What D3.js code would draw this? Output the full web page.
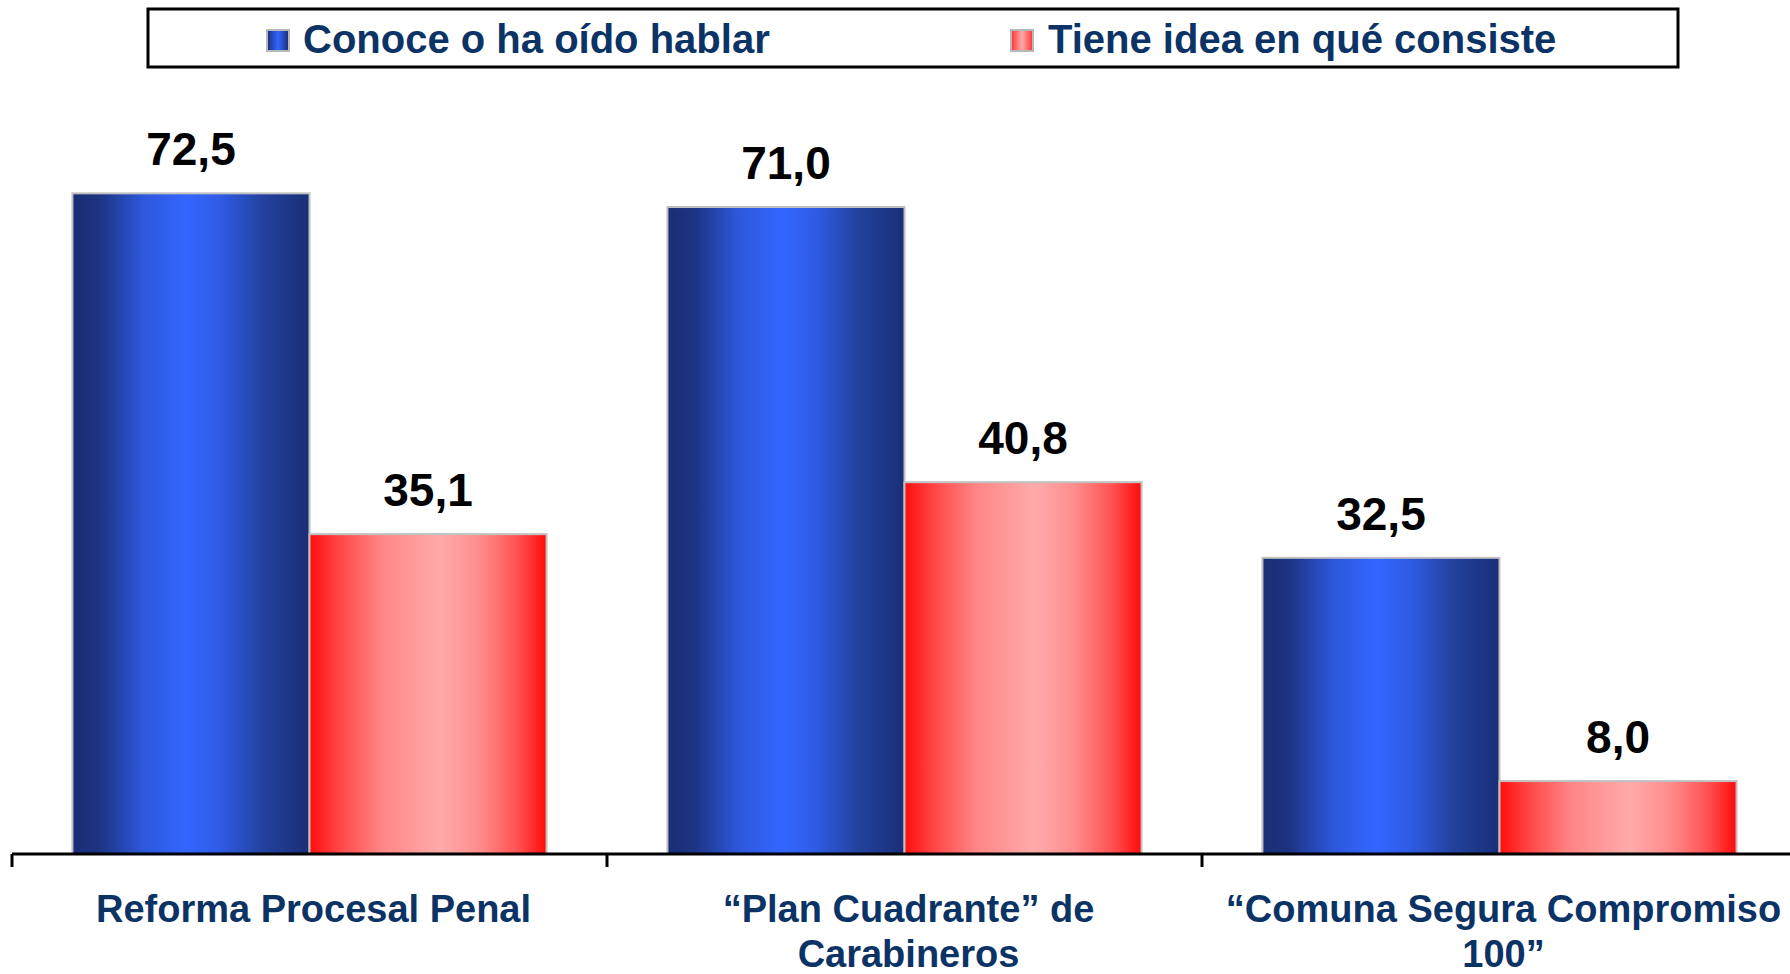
<!DOCTYPE html>
<html>
<head>
<meta charset="utf-8">
<script src="https://cdn.jsdelivr.net/npm/d3@7"></script>
<style>
  html, body { margin: 0; padding: 0; background: #ffffff; }
  svg { display: block; }
</style>
</head>
<body>
<svg id="chart" width="1790" height="974"></svg>
<script>
// ---- data ----
const categories = ["Reforma Procesal Penal", "“Plan Cuadrante” de\nCarabineros", "“Comuna Segura Compromiso\n100”"];
const seriesNames = ["Conoce o ha oído hablar", "Tiene idea en qué consiste"];
const conoceValues = [72.5, 71.0, 32.5];
const ideaValues = [35.1, 40.8, 8.0];
const yDomain = [0, 80];

// ---- layout ----
const W = 1790, H = 974;
const axisY = 854, plotTop = 125;
const xStart = 12, bandW = 595;
const navy = "#0c3366";
const font = "'Liberation Sans', Arial, sans-serif";

const svg = d3.select("#chart");
const defs = svg.append("defs");

function grad(id, stops) {
  const g = defs.append("linearGradient").attr("id", id)
    .attr("x1", "0%").attr("x2", "100%").attr("y1", "0%").attr("y2", "0%");
  stops.forEach(s => g.append("stop").attr("offset", s[0]).attr("stop-color", s[1]));
}
grad("gBlue", [[0, "#1a2d75"], [0.12, "#1d3585"], [0.3, "#2d58dc"], [0.48, "#3366ff"], [0.62, "#2f5ce6"], [0.8, "#23429f"], [1, "#192e76"]]);
grad("gRed", [[0, "#ff0d0d"], [0.12, "#ff4444"], [0.3, "#ff8585"], [0.55, "#ffaaaa"], [0.72, "#ff8c8c"], [0.88, "#ff5050"], [1, "#ff0a0a"]]);
grad("gBlueL", [[0, "#1a2d75"], [0.5, "#3366ff"], [1, "#1a2d75"]]);
grad("gRedL", [[0, "#ff3030"], [0.5, "#ffaaaa"], [1, "#ff3030"]]);

const x0 = d3.scaleBand().domain(categories).range([xStart, xStart + bandW * categories.length]).paddingInner(0).paddingOuter(0);
const x1 = d3.scaleBand().domain(seriesNames).range([0, x0.bandwidth()]).paddingInner(0).paddingOuter(0.255);
const y = d3.scaleLinear().domain(yDomain).range([axisY, plotTop]);

const fills = { [seriesNames[0]]: "url(#gBlue)", [seriesNames[1]]: "url(#gRed)" };
const legendFills = { [seriesNames[0]]: "url(#gBlueL)", [seriesNames[1]]: "url(#gRedL)" };

const rows = categories.map((c, i) => ({ cat: c, vals: [
  { s: seriesNames[0], v: conoceValues[i] },
  { s: seriesNames[1], v: ideaValues[i] }
]}));

// ---- bars ----
const groups = svg.append("g").selectAll("g").data(rows).join("g")
  .attr("transform", d => `translate(${x0(d.cat)},0)`);

groups.selectAll("rect").data(d => d.vals).join("rect")
  .attr("x", d => x1(d.s))
  .attr("y", d => y(d.v))
  .attr("width", x1.bandwidth())
  .attr("height", d => axisY - y(d.v))
  .attr("fill", d => fills[d.s])
  .attr("stroke", "#c0c0c0")
  .attr("stroke-width", 2);

groups.selectAll("text.val").data(d => d.vals).join("text")
  .attr("class", "val")
  .attr("x", d => x1(d.s) + x1.bandwidth() / 2)
  .attr("y", d => y(d.v) - 28)
  .attr("text-anchor", "middle")
  .attr("font-family", font)
  .attr("font-weight", "bold")
  .attr("font-size", 46)
  .attr("fill", "#000")
  .text(d => d.v.toFixed(1).replace(".", ","));

// ---- x axis ----
const xAxis = d3.axisBottom(x0).tickSize(13).tickFormat("");
const gAx = svg.append("g").attr("transform", `translate(0,${axisY})`).call(xAxis);
gAx.select(".domain").remove();
gAx.selectAll(".tick").remove();
gAx.append("line").attr("x1", xStart).attr("x2", W).attr("y1", 0).attr("y2", 0)
  .attr("stroke", "#000").attr("stroke-width", 3);
const tickXs = categories.map(c => x0(c)).concat([x0(categories[categories.length - 1]) + x0.bandwidth()]);
gAx.selectAll("line.tk").data(tickXs).join("line").attr("class", "tk")
  .attr("x1", d => d).attr("x2", d => d).attr("y1", 0).attr("y2", 13)
  .attr("stroke", "#000").attr("stroke-width", 3);

// category labels
const catG = svg.append("g");
categories.forEach(c => {
  const lines = c.split("\n");
  const t = catG.append("text")
    .attr("text-anchor", "middle")
    .attr("font-family", font)
    .attr("font-weight", "bold")
    .attr("font-size", 38)
    .attr("fill", navy);
  lines.forEach((ln, j) => {
    t.append("tspan").attr("x", x0(c) + x0.bandwidth() / 2 + 4).attr("y", 922 + j * 45).text(ln);
  });
});

// ---- legend ----
const lg = svg.append("g");
lg.append("rect").attr("x", 148).attr("y", 9).attr("width", 1530).attr("height", 58)
  .attr("fill", "#fff").attr("stroke", "#000").attr("stroke-width", 3);
const legendPos = [{ mx: 267, tx: 303 }, { mx: 1011, tx: 1048 }];
seriesNames.forEach((s, i) => {
  lg.append("rect").attr("x", legendPos[i].mx).attr("y", 30).attr("width", 22).attr("height", 21)
    .attr("fill", legendFills[s]).attr("stroke", "#b8b8b8").attr("stroke-width", 2);
  lg.append("text").attr("x", legendPos[i].tx).attr("y", 53)
    .attr("font-family", font).attr("font-weight", "bold").attr("font-size", 40)
    .attr("fill", navy).text(s);
});
</script>
</body>
</html>
